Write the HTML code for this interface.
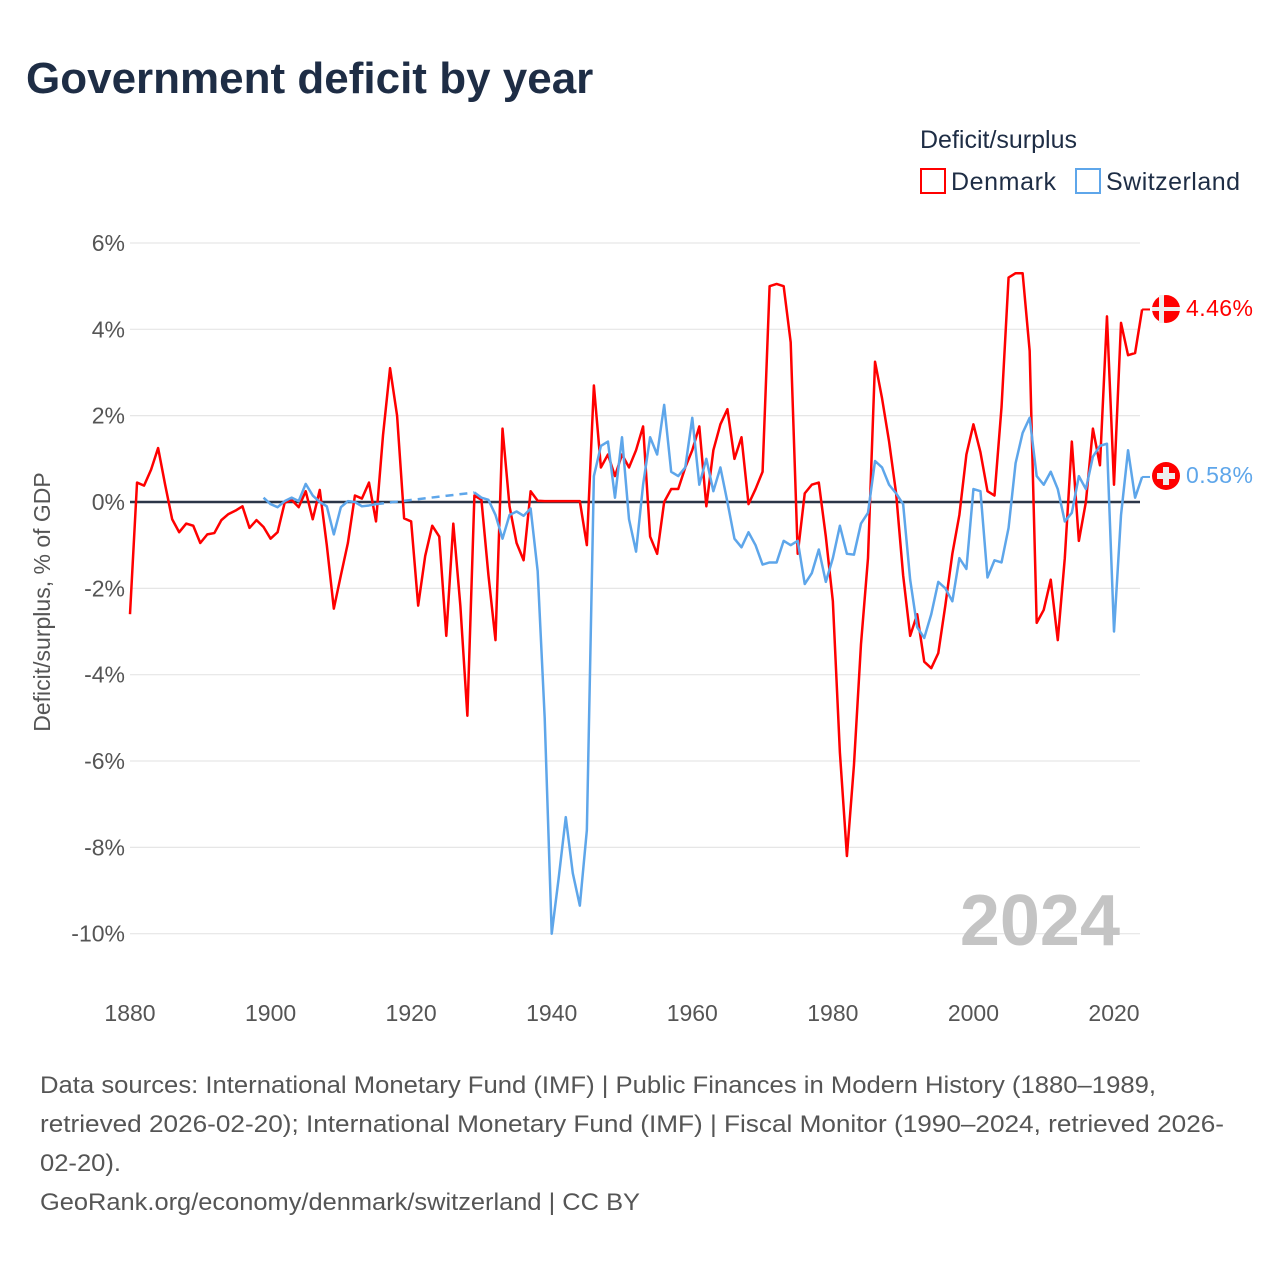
<!DOCTYPE html>
<html><head><meta charset="utf-8"><style>
body{margin:0;background:#fff;font-family:"Liberation Sans",sans-serif;}
svg{display:block}
</style></head><body>
<svg id="chart" width="1280" height="1280" xmlns="http://www.w3.org/2000/svg">
<text x="26" y="93" font-size="44" font-weight="bold" fill="#1e2d45">Government deficit by year</text>
<text x="920" y="148" font-size="25" fill="#1e2d45">Deficit/surplus</text>
<g><rect x="921" y="169" width="24" height="24" fill="none" stroke="#ff0000" stroke-width="2"/><text x="951" y="190" font-size="25" fill="#1e2d45" textLength="105">Denmark</text></g>
<g><rect x="1076" y="169" width="24" height="24" fill="none" stroke="#5ea6ea" stroke-width="2"/><text x="1106" y="190" font-size="25" fill="#1e2d45" textLength="134">Switzerland</text></g>
<g id="grid"></g>
<g id="xt"></g>
<text transform="translate(50,602) rotate(-90)" text-anchor="middle" font-size="23" fill="#555">Deficit/surplus, % of GDP</text>
<text x="1120" y="945" text-anchor="end" font-size="72" font-weight="bold" fill="#c4c4c4">2024</text>
<g id="lines"></g>
<g>
<circle cx="1166" cy="309" r="14" fill="#ff0000"/><rect x="1159" y="295" width="5" height="28" fill="#eee"/><rect x="1152" y="307" width="28" height="4" fill="#eee"/>
<text x="1186" y="316" font-size="23" fill="#ff0000" textLength="67">4.46%</text></g>
<g>
<circle cx="1166" cy="476" r="14" fill="#ff0000"/><rect x="1163" y="467" width="6" height="18" fill="#eee"/><rect x="1157" y="473" width="18" height="6" fill="#eee"/>
<text x="1186" y="483" font-size="23" fill="#5ea6ea" textLength="67">0.58%</text></g>
<g font-size="24" fill="#555">
<text x="40" y="1093" textLength="1116" lengthAdjust="spacingAndGlyphs">Data sources: International Monetary Fund (IMF) | Public Finances in Modern History (1880–1989,</text>
<text x="40" y="1132" textLength="1184" lengthAdjust="spacingAndGlyphs">retrieved 2026-02-20); International Monetary Fund (IMF) | Fiscal Monitor (1990–2024, retrieved 2026-</text>
<text x="40" y="1171" textLength="81" lengthAdjust="spacingAndGlyphs">02-20).</text>
<text x="40" y="1210" textLength="600" lengthAdjust="spacingAndGlyphs">GeoRank.org/economy/denmark/switzerland | CC BY</text>
</g>
</svg>
<script>
const yTicks=[6,4,2,0,-2,-4,-6,-8,-10];
const xTicks=[1880,1900,1920,1940,1960,1980,2000,2020];
const dkStart=1880;
const dkValues=[-2.6,0.45,0.38,0.75,1.25,0.4,-0.4,-0.7,-0.5,-0.55,-0.95,-0.75,-0.72,-0.42,-0.28,-0.2,-0.1,-0.6,-0.42,-0.58,-0.85,-0.7,-0.02,0.05,-0.12,0.25,-0.4,0.28,-1.0,-2.47,-1.7,-0.95,0.15,0.08,0.45,-0.45,1.55,3.1,2.0,-0.38,-0.45,-2.4,-1.25,-0.55,-0.8,-3.1,-0.5,-2.4,-4.95,0.15,0.05,-1.7,-3.2,1.7,-0.1,-0.95,-1.35,0.25,0.03,0.02,0.02,0.02,0.02,0.02,0.02,-1.0,2.7,0.8,1.1,0.6,1.1,0.8,1.2,1.75,-0.8,-1.2,0.0,0.3,0.3,0.8,1.2,1.75,-0.1,1.2,1.8,2.15,1.0,1.5,-0.05,0.3,0.7,5.0,5.05,5.0,3.7,-1.2,0.2,0.4,0.45,-0.8,-2.3,-5.8,-8.2,-6.1,-3.3,-1.3,3.25,2.4,1.4,0.2,-1.7,-3.1,-2.6,-3.7,-3.85,-3.5,-2.4,-1.2,-0.3,1.1,1.8,1.15,0.25,0.15,2.2,5.2,5.3,5.3,3.5,-2.8,-2.5,-1.8,-3.2,-1.3,1.4,-0.9,0.0,1.7,0.85,4.3,0.4,4.15,3.4,3.45,4.46];
const chStart=1899;
const chValues=[0.1,-0.05,-0.12,0.02,0.1,0.02,0.42,0.15,0.0,-0.1,-0.75,-0.12,0.02,0.0,-0.1,-0.08,-0.05,null,null,null,null,null,null,null,null,null,null,null,null,null,0.22,0.1,0.05,-0.3,-0.85,-0.3,-0.22,-0.32,-0.15,-1.6,-5.0,-10.0,-8.7,-7.3,-8.6,-9.35,-7.6,0.6,1.3,1.4,0.1,1.5,-0.4,-1.15,0.4,1.5,1.1,2.25,0.7,0.6,0.8,1.95,0.4,1.0,0.25,0.8,0.0,-0.85,-1.05,-0.7,-1.0,-1.45,-1.4,-1.4,-0.9,-1.0,-0.9,-1.9,-1.65,-1.1,-1.85,-1.3,-0.55,-1.2,-1.22,-0.5,-0.25,0.95,0.8,0.4,0.2,-0.05,-1.8,-2.9,-3.15,-2.6,-1.85,-2.0,-2.3,-1.3,-1.55,0.3,0.25,-1.75,-1.35,-1.4,-0.6,0.9,1.6,1.95,0.6,0.4,0.7,0.3,-0.45,-0.25,0.6,0.3,1.05,1.3,1.35,-3.0,-0.3,1.2,0.1,0.58];
const NS='http://www.w3.org/2000/svg';
const X=y=>130+(y-1880)*984/140;
const Y=v=>502-v*43.17;
const grid=document.getElementById('grid'),xt=document.getElementById('xt'),lines=document.getElementById('lines');
function mk(t,a,p){const e=document.createElementNS(NS,t);for(const k in a)e.setAttribute(k,a[k]);p.appendChild(e);return e;}
yTicks.forEach(v=>{
 if(v!==0){const l=mk('line',{x1:130,x2:1140,y1:Y(v),y2:Y(v),stroke:'#e6e6e6','stroke-width':1.2},grid);
 
 }
 const t=mk('text',{x:125,y:Y(v)+8,'text-anchor':'end','font-size':23,fill:'#555'},grid);
 t.textContent=v+'%';
 
 
});
xTicks.forEach(y=>{const t=mk('text',{x:X(y),y:1021,'text-anchor':'middle','font-size':23,fill:'#555'},xt);
 t.textContent=y;
 
 });
const z=mk('line',{x1:130,x2:1140,y1:Y(0),y2:Y(0),stroke:'#2b3648','stroke-width':2.5},lines);


function series(start,vals,color,name){
 let d='',gaps='',prev=null;
 vals.forEach((v,i)=>{if(v===null)return;const x=X(start+i),y=Y(v);
  if(prev&&prev.i===i-1)d+='L'+x+','+y;else{d+='M'+x+','+y;if(prev)gaps+='M'+prev.x+','+prev.y+'L'+x+','+y;}
  prev={i,x,y};});
 if(gaps){const g=mk('path',{d:gaps,fill:'none',stroke:color,'stroke-width':2.5,'stroke-dasharray':'8,6'},lines);
 
 }
 const p=mk('path',{d:d,fill:'none',stroke:color,'stroke-width':2.5,'stroke-linejoin':'round'},lines);
 
 
 const last=vals[vals.length-1];
 const c=mk('path',{d:'M'+prev.x+','+Y(last)+'L1150,'+Y(last),stroke:color,'stroke-width':2},lines);
 
 
}
series(dkStart,dkValues,'#ff0000','denmark');
series(chStart,chValues,'#5ea6ea','switzerland');
</script>
</body></html>
